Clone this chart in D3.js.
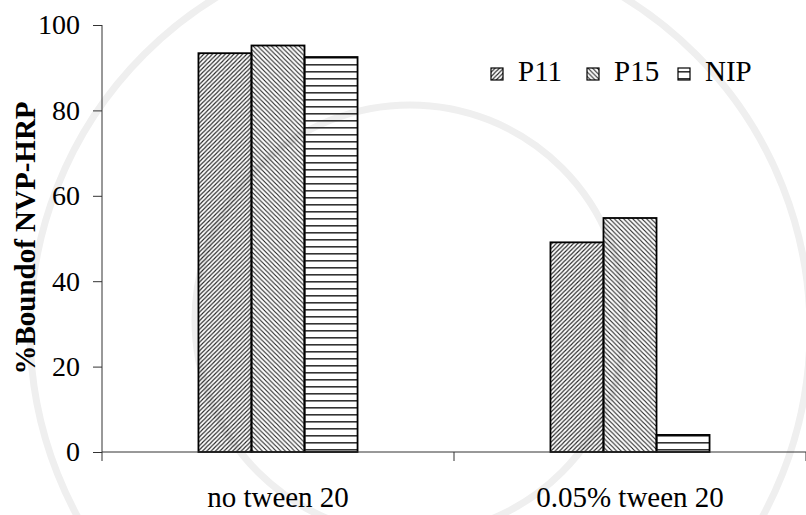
<!DOCTYPE html>
<html>
<head>
<meta charset="utf-8">
<script src="https://cdn.jsdelivr.net/npm/d3@7"></script>
<style>
  body { margin: 0; background: #fff; }
  svg text { font-family: "Liberation Serif", "DejaVu Serif", serif; }
</style>
</head>
<body>
<div id="container"></div>
<script>
const categories = ['no tween 20', '0.05% tween 20'];
const seriesNames = ['P11', 'P15', 'NIP'];
const P11 = [93.4, 49.1];
const P15 = [95.2, 54.8];
const NIP = [92.5, 4.0];
const yTicks = [0, 20, 40, 60, 80, 100];

const w = 806;
const h = 515;
const padLeft = 102;
const padRight = 806;
const padTop = 25;
const padBot = 452;
const serif = '"Liberation Serif", "DejaVu Serif", serif';

const svg = d3.select('#container')
    .append('svg')
    .attr('width', w)
    .attr('height', h)
    .style('font-family', serif);

// faint watermark arcs in the background
const wm = svg.append('g')
    .attr('fill', 'none')
    .attr('stroke', '#efefef')
    .attr('stroke-width', 7);
wm.append('circle').attr('cx', 420).attr('cy', 330).attr('r', 390);
wm.append('circle').attr('cx', 410).attr('cy', 320).attr('r', 215);

// hatch patterns
const defs = svg.append('defs');
const pat = (id, size, d, sw) => {
  defs.append('pattern')
      .attr('id', id)
      .attr('patternUnits', 'userSpaceOnUse')
      .attr('width', size)
      .attr('height', size)
    .append('path')
      .attr('d', d)
      .attr('stroke', '#222')
      .attr('stroke-width', sw)
      .attr('fill', 'none');
};
pat('hP11', 4.3, 'M-1,1 L1,-1 M0,4.3 L4.3,0 M3.3,5.3 L5.3,3.3', 1.1);
pat('hP15', 4.6, 'M-1,3.6 L1,5.6 M0,0 L4.6,4.6 M3.6,-1 L5.6,1', 1.1);
defs.append('pattern')
    .attr('id', 'hNIP')
    .attr('patternUnits', 'userSpaceOnUse')
    .attr('width', 8)
    .attr('height', 7)
    .attr('y', 1)
  .append('rect')
    .attr('x', 0).attr('y', 0).attr('width', 8).attr('height', 1.6)
    .attr('fill', '#333');

const fills = { P11: 'url(#hP11)', P15: 'url(#hP15)', NIP: 'url(#hNIP)' };
const values = { P11, P15, NIP };

const x0 = d3.scaleBand()
    .domain(categories)
    .range([padLeft, padRight]);

const groupW = x0.bandwidth() * 0.452;
const x1 = d3.scaleBand()
    .domain(seriesNames)
    .range([0, groupW]);

const y = d3.scaleLinear()
    .domain([0, 100])
    .range([padBot, padTop]);

const rows = [];
categories.forEach((c, i) => {
  seriesNames.forEach(s => rows.push({ cat: c, s, v: values[s][i] }));
});

svg.append('g').selectAll('rect')
    .data(rows)
    .enter()
    .append('rect')
    .attr('x', d => x0(d.cat) + (x0.bandwidth() - groupW) / 2 + x1(d.s))
    .attr('y', d => y(d.v))
    .attr('width', x1.bandwidth())
    .attr('height', d => y(0) - y(d.v))
    .attr('fill', d => fills[d.s])
    .attr('stroke', '#000')
    .attr('stroke-width', 1.8);

// y axis
const axisY = d3.axisLeft(y).tickValues(yTicks).tickSize(9).tickPadding(13);
const gy = svg.append('g')
    .attr('transform', `translate(${padLeft},0)`)
    .call(axisY)
    .attr('font-family', serif)
    .attr('font-size', 28);
gy.select('.domain').attr('stroke', '#333').attr('d', `M0,${padTop}V${padBot}`);
gy.selectAll('.tick line').attr('stroke', '#333');
gy.selectAll('.tick text').attr('fill', '#000');

// x axis: ticks at category boundaries
const gx = svg.append('g').attr('transform', `translate(0,${padBot})`);
gx.append('line')
    .attr('x1', padLeft).attr('x2', padRight)
    .attr('stroke', '#333');
gx.selectAll('.bt')
    .data(categories.concat(['end']))
    .enter()
    .append('line')
    .attr('x1', (d, i) => i < categories.length ? x0(d) : padRight)
    .attr('x2', (d, i) => i < categories.length ? x0(d) : padRight)
    .attr('y1', 0).attr('y2', 9)
    .attr('stroke', '#333');
gx.selectAll('text')
    .data(categories)
    .enter()
    .append('text')
    .attr('x', d => x0(d) + x0.bandwidth() / 2)
    .attr('y', 55)
    .attr('text-anchor', 'middle')
    .attr('font-size', 29)
    .text(d => d);

// y title
svg.append('text')
    .attr('transform', `translate(35,238) rotate(-90)`)
    .attr('text-anchor', 'middle')
    .attr('font-size', 29)
    .attr('font-weight', 'bold')
    .text('%Boundof NVP-HRP');

// legend
const legendX = [491, 587, 678];
const legend = svg.append('g');
seriesNames.forEach((s, i) => {
  legend.append('rect')
      .attr('x', legendX[i]).attr('y', 68)
      .attr('width', 12).attr('height', 12)
      .attr('fill', fills[s])
      .attr('stroke', '#000')
      .attr('stroke-width', 1.2);
  legend.append('text')
      .attr('x', legendX[i] + 27)
      .attr('y', 81)
      .attr('font-size', 29)
      .text(s);
});
</script>
</body>
</html>
